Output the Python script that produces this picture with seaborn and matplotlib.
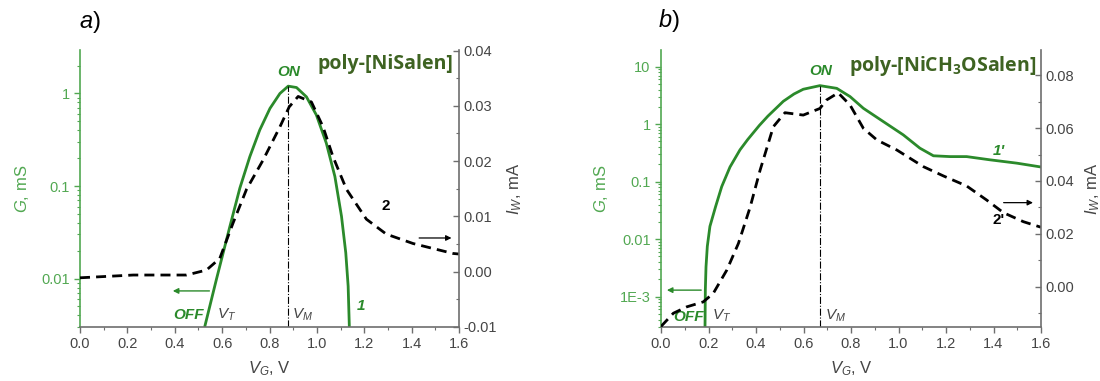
import numpy as np
import pandas as pd
import matplotlib
matplotlib.use("Agg")
import matplotlib.pyplot as plt
from matplotlib.ticker import FixedLocator, FuncFormatter, MultipleLocator, LogLocator, NullFormatter
import seaborn as sns

# ---------------- data: panel a (poly-[NiSalen]) ----------------
a_g_vg = [0.527, 0.576, 0.633, 0.675, 0.717, 0.759, 0.802, 0.844, 0.879, 0.914, 0.956, 0.998, 1.04,
          1.076, 1.104, 1.122, 1.132, 1.137]
a_g_val = [0.00305, 0.00984, 0.0368, 0.0953, 0.208, 0.404, 0.69, 1.0, 1.2, 1.16, 0.92, 0.585, 0.29,
           0.127, 0.047, 0.019, 0.0083, 0.00305]
a_i_vg = [0.0, 0.225, 0.45, 0.534, 0.59, 0.647, 0.703, 0.773, 0.844, 0.883, 0.921, 0.977, 1.026,
          1.068, 1.125, 1.209, 1.293, 1.406, 1.49, 1.575, 1.6]
a_i_val = [-0.0011, -0.0006, -0.0006, 0.0003, 0.0024, 0.0089, 0.0149, 0.0202, 0.0262, 0.0298, 0.0317,
           0.0307, 0.0262, 0.0208, 0.0149, 0.0095, 0.0068, 0.0051, 0.0042, 0.0033, 0.0032]
a_vm = 0.879
a_title = "poly-[NiSalen]"

# ---------------- data: panel b (poly-[NiCH3OSalen]) ----------------
b_g_vg = [0.1853, 0.1867, 0.1895, 0.195, 0.206, 0.23, 0.2556, 0.2905, 0.3326, 0.365, 0.414, 0.45,
          0.515, 0.56, 0.599, 0.669, 0.74, 0.796, 0.852, 0.936, 1.02, 1.09, 1.147, 1.217, 1.287, 1.385,
          1.498, 1.6]
b_g_val = [2.95e-4, 1.32e-3, 3.3e-3, 7.5e-3, 0.0167, 0.037, 0.082, 0.18, 0.358, 0.54, 0.95, 1.38,
           2.5, 3.35, 4.05, 4.68, 4.2, 3.02, 1.89, 1.11, 0.652, 0.383, 0.282, 0.273, 0.273, 0.24, 0.21, 0.18]
b_i_vg = [0.0, 0.052, 0.108, 0.178, 0.22, 0.277, 0.326, 0.375, 0.417, 0.473, 0.522, 0.599, 0.669,
          0.697, 0.746, 0.796, 0.852, 0.909, 0.993, 1.105, 1.189, 1.287, 1.371, 1.442, 1.526, 1.6]
b_i_val = [-0.015, -0.01, -0.0076, -0.0057, -0.0025, 0.0063, 0.0164, 0.030, 0.044, 0.0605, 0.0658,
           0.0649, 0.0674, 0.0706, 0.0733, 0.0687, 0.0599, 0.0555, 0.0517, 0.0454, 0.0419, 0.0381,
           0.0328, 0.028, 0.0246, 0.0225]
b_vm = 0.669
b_title = "poly-[NiCH$_\\mathbf{3}$OSalen]"

x_ticks = [0.0, 0.2, 0.4, 0.6, 0.8, 1.0, 1.2, 1.4, 1.6]
a_g_ticks = [0.01, 0.1, 1]
a_g_ticklabels = ["0.01", "0.1", "1"]
b_g_ticks = [1e-3, 0.01, 0.1, 1, 10]
b_g_ticklabels = ["1E-3", "0.01", "0.1", "1", "10"]
a_i_ticks = [-0.01, 0.0, 0.01, 0.02, 0.03, 0.04]
b_i_ticks = [0.0, 0.02, 0.04, 0.06, 0.08]

# ---------------- style ----------------
sns.set_style("ticks")
plt.rcParams["font.family"] = ["Liberation Sans", "DejaVu Sans"]
plt.rcParams["mathtext.fontset"] = "custom"
plt.rcParams["mathtext.it"] = "Liberation Sans:italic"
plt.rcParams["mathtext.rm"] = "Liberation Sans"
plt.rcParams["mathtext.bf"] = "Open Sans:bold"

GREEN = "#2b8a2b"
LGREEN = "#52a852"
GRAY = "#6e6e6e"
TITLE = "#3e6322"
DARK = "#454545"

fig = plt.figure(figsize=(11, 3.81), dpi=100)
axA = fig.add_axes([80 / 1100, 1 - 327 / 381, 379 / 1100, 277 / 381])
axB = fig.add_axes([661 / 1100, 1 - 327 / 381, 380 / 1100, 277 / 381])


def style_axes(ax, axr, gticks, glabels, glim, iticks, ilim, iminor):
    ax.set_yscale("log")
    ax.set_xlim(0, 1.6)
    ax.set_ylim(*glim)
    axr.set_ylim(*ilim)
    ax.xaxis.set_major_locator(FixedLocator(x_ticks))
    ax.xaxis.set_major_formatter(FuncFormatter(lambda v, p: f"{v:.1f}"))
    ax.xaxis.set_minor_locator(MultipleLocator(0.1))
    ax.yaxis.set_major_locator(FixedLocator(gticks))
    ax.yaxis.set_major_formatter(FuncFormatter(lambda v, p: dict(zip(gticks, glabels)).get(v, "")))
    ax.yaxis.set_minor_locator(LogLocator(base=10, subs=np.arange(2, 10)))
    ax.yaxis.set_minor_formatter(NullFormatter())
    axr.yaxis.set_major_locator(FixedLocator(iticks))
    axr.yaxis.set_major_formatter(FuncFormatter(lambda v, p: f"{v:.2f}"))
    axr.yaxis.set_minor_locator(MultipleLocator(iminor))
    for a in (ax, axr):
        a.spines["top"].set_visible(False)
        a.grid(False)
    ax.spines["right"].set_visible(False)
    axr.spines["left"].set_visible(False)
    axr.spines["bottom"].set_visible(False)
    ax.spines["left"].set_color(LGREEN)
    ax.spines["bottom"].set_color(GRAY)
    axr.spines["right"].set_color(GRAY)
    for s in ("left", "bottom"):
        ax.spines[s].set_linewidth(1.2)
    axr.spines["right"].set_linewidth(1.2)
    ax.tick_params(axis="x", which="major", direction="out", length=4, width=1, colors=GRAY,
                   labelcolor=DARK, labelsize=10.5)
    ax.tick_params(axis="x", which="minor", direction="out", length=2.5, width=0.8, colors=GRAY)
    ax.tick_params(axis="y", which="major", direction="out", length=4, width=1, colors=LGREEN,
                   labelcolor=LGREEN, labelsize=10.5)
    ax.tick_params(axis="y", which="minor", direction="out", length=2.5, width=0.8, colors=LGREEN)
    axr.tick_params(axis="y", which="major", direction="in", length=4, width=1, colors=GRAY,
                    labelcolor=DARK, labelsize=10.5, right=True, left=False)
    axr.tick_params(axis="y", which="minor", direction="in", length=2.5, width=0.8, colors=GRAY,
                    right=True, left=False)
    ax.set_xlabel("$V_G$, V", fontsize=12, color=DARK, labelpad=6)
    ax.set_ylabel("$G$, mS", fontsize=12, color=LGREEN, labelpad=7)
    axr.set_ylabel("$I_W$, mA", fontsize=12, color=DARK, labelpad=6, rotation=90)


def draw_panel(ax, gx, gy, ix, iy):
    axr = ax.twinx()
    dg = pd.DataFrame({"VG": gx, "G": gy})
    di = pd.DataFrame({"VG": ix, "I": iy})
    sns.lineplot(data=dg, x="VG", y="G", ax=ax, color=GREEN, lw=2.0, sort=False, estimator=None)
    sns.lineplot(data=di, x="VG", y="I", ax=axr, color="black", lw=2.0, sort=False, estimator=None,
                 dashes=False, linestyle=(0, (3.6, 2.2)))
    return axr


# ---------------- panel a ----------------
axrA = draw_panel(axA, a_g_vg, a_g_val, a_i_vg, a_i_val)
style_axes(axA, axrA, a_g_ticks, a_g_ticklabels, (0.003, 2.95), a_i_ticks, (-0.01, 0.0401), 0.005)
axA.plot([a_vm, a_vm], [0.003, max(a_g_val)], color="black", lw=0.8, ls="-.")

axA.text(0.879, 1.7, "ON", color=GREEN, fontsize=11, fontweight="bold", style="italic", ha="center", va="center")
axA.text(0.525, 0.0040, "OFF", color=GREEN, fontsize=11, fontweight="bold", style="italic", ha="right", va="center")
axA.text(0.58, 0.0041, "$V_T$", color=DARK, fontsize=11, ha="left", va="center")
axA.text(0.895, 0.0041, "$V_M$", color=DARK, fontsize=11, ha="left", va="center")
axA.text(1.188, 0.0051, "1", color=GREEN, fontsize=11, fontweight="bold", style="italic", ha="center", va="center")
axrA.text(1.29, 0.0118, "2", color="black", fontsize=11, fontweight="bold", ha="center", va="center")
axA.annotate("", xy=(0.38, 0.00736), xytext=(0.558, 0.00736),
             arrowprops=dict(arrowstyle="-|>", color=GREEN, lw=1.0, mutation_scale=8))
axrA.annotate("", xy=(1.58, 0.0061), xytext=(1.42, 0.0061),
              arrowprops=dict(arrowstyle="-|>", color="black", lw=0.9, mutation_scale=8))
axA.text(0.985, 0.985, a_title, transform=axA.transAxes, color=TITLE, fontsize=14,
         fontweight="bold", family="Open Sans", ha="right", va="top")
fig.text(90 / 1100, 1 - 22 / 381, "$a$)", fontsize=17, color="black", ha="center", va="center")

# ---------------- panel b ----------------
axrB = draw_panel(axB, b_g_vg, b_g_val, b_i_vg, b_i_val)
style_axes(axB, axrB, b_g_ticks, b_g_ticklabels, (2.97e-4, 19.5), b_i_ticks, (-0.0152, 0.0895), 0.01)
axB.plot([b_vm, b_vm], [2.97e-4, max(b_g_val)], color="black", lw=0.8, ls="-.")

axB.text(0.673, 8.4, "ON", color=GREEN, fontsize=11, fontweight="bold", style="italic", ha="center", va="center")
axB.text(0.181, 4.4e-4, "OFF", color=GREEN, fontsize=11, fontweight="bold", style="italic", ha="right", va="center")
axB.text(0.215, 4.7e-4, "$V_T$", color=DARK, fontsize=11, ha="left", va="center")
axB.text(0.69, 4.6e-4, "$V_M$", color=DARK, fontsize=11, ha="left", va="center")
axB.text(1.423, 0.335, "1'", color=GREEN, fontsize=11, fontweight="bold", style="italic", ha="center", va="center")
axB.text(1.423, 0.0218, "2'", color="black", fontsize=11, fontweight="bold", ha="center", va="center")
axB.annotate("", xy=(0.013, 1.3e-3), xytext=(0.181, 1.3e-3),
             arrowprops=dict(arrowstyle="-|>", color=GREEN, lw=1.0, mutation_scale=8))
axrB.annotate("", xy=(1.578, 0.0318), xytext=(1.431, 0.0318),
              arrowprops=dict(arrowstyle="-|>", color="black", lw=0.9, mutation_scale=8))
axB.text(0.987, 0.985, b_title, transform=axB.transAxes, color=TITLE, fontsize=14,
         fontweight="bold", family="Open Sans", ha="right", va="top")
fig.text(669 / 1100, 1 - 20 / 381, "$b$)", fontsize=17, color="black", ha="center", va="center")

fig.savefig("out.png", dpi=100)
